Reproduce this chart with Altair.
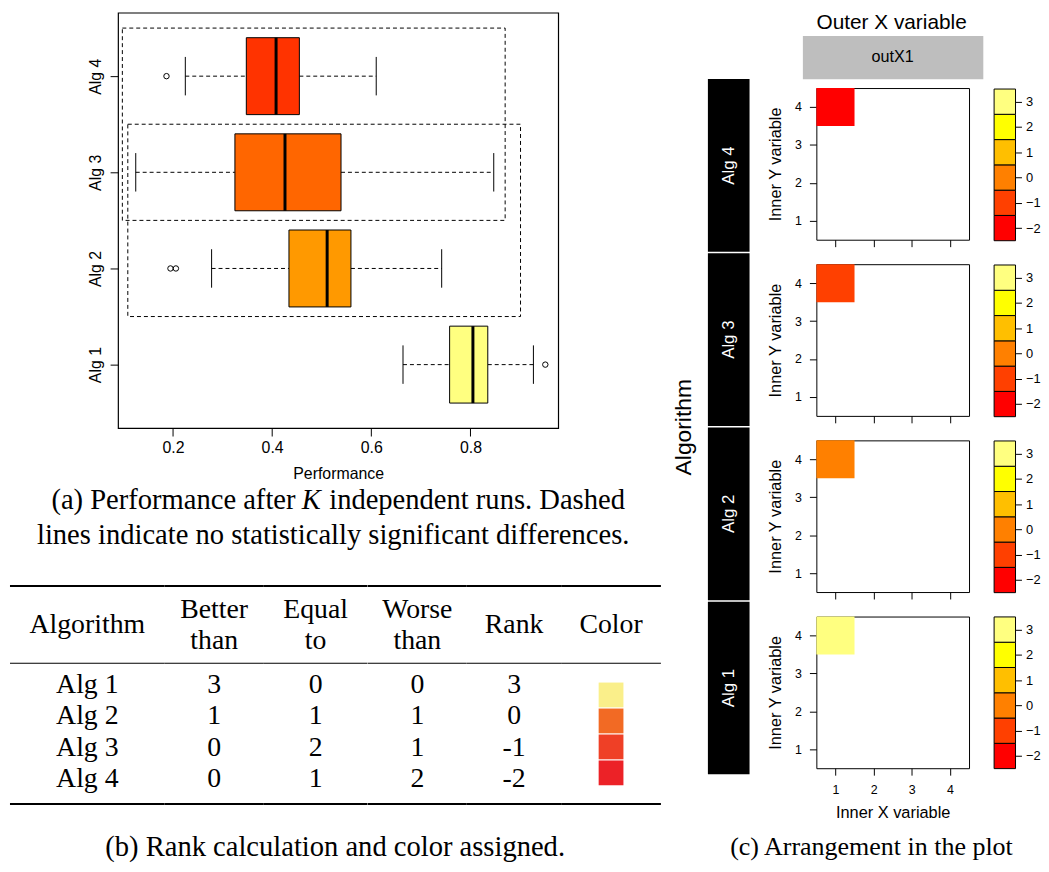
import altair as alt
import pandas as pd

# ---------------- data ----------------
algorithms = ["Alg 1", "Alg 2", "Alg 3", "Alg 4"]
alg_order = [1, 2, 3, 4]
whisker_low = [0.664, 0.278, 0.125, 0.225]
quart1 = [0.758, 0.434, 0.325, 0.348]
medians = [0.805, 0.511, 0.426, 0.408]
quart3 = [0.835, 0.559, 0.539, 0.455]
whisker_high = [0.927, 0.742, 0.847, 0.610]
box_fill = ["#FFFF80", "#FF9900", "#FF6600", "#FF3300"]

outlier_alg = ["Alg 1", "Alg 2", "Alg 2", "Alg 4"]
outlier_value = [0.951, 0.195, 0.206, 0.187]

tie_groups = [["Alg 3", "Alg 4"], ["Alg 2", "Alg 3"]]
tie_low = [0.098, 0.109]
tie_high = [0.870, 0.901]

table_headers = ["Algorithm", "Better\nthan", "Equal\nto", "Worse\nthan", "Rank", "Color"]
better_than = ["3", "1", "0", "0"]
equal_to = ["0", "1", "2", "1"]
worse_than = ["0", "1", "1", "2"]
ranks = [3, 0, -1, -2]
table_colors = ["#FAEF8A", "#F26A24", "#EF4026", "#EC2227"]

rank_levels = [-2, -1, 0, 1, 2, 3]
heat_colors = ["#FF0000", "#FF4000", "#FF8000", "#FFBF00", "#FFFF00", "#FFFF80"]
inner_x = [1, 1, 1, 1]
inner_y = [4, 4, 4, 4]
outer_x = ["outX1"]
outer_title = ["Outer X variable"]

caption_a = ["(a) Performance after", "K", "independent runs. Dashed",
             "lines indicate no statistically significant differences."]
caption_b = ["(b) Rank calculation and color assigned."]
caption_c = ["(c) Arrangement in the plot"]

SANS = "Liberation Sans"
SERIF = "Liberation Serif"


def spacer(w, h):
    # invisible, zero-stroke filler that never reaches outside its own view
    return alt.Chart(pd.DataFrame({"s": [0]})).mark_rect(opacity=0, strokeWidth=0).encode(
        x=alt.value(0), x2=alt.value(w), y=alt.value(0), y2=alt.value(h)
    ).properties(width=w, height=h)


# ---------------- (a) boxplot ----------------
pos_of = dict(zip(algorithms, alg_order))
box_df = pd.DataFrame({"alg": algorithms, "pos": alg_order, "lo": whisker_low, "q1": quart1,
                       "med": medians, "q3": quart3, "hi": whisker_high, "fill": box_fill})
out_df = pd.DataFrame({"alg": outlier_alg, "val": outlier_value})
out_df["pos"] = out_df["alg"].map(pos_of)
tie_df = pd.DataFrame({"lo": tie_low, "hi": tie_high,
                       "ymin": [min(pos_of[a] for a in g) - 0.5 for g in tie_groups],
                       "ymax": [max(pos_of[a] for a in g) + 0.5 for g in tie_groups]})

xsc = alt.Scale(domain=[0.0893, 0.977], nice=False, zero=False)
ysc = alt.Scale(domain=[0.34, 4.66], nice=False, zero=False)
xax = alt.Axis(values=[0.2, 0.4, 0.6, 0.8], format=".1f", grid=False, domain=False, tickSize=8,
               labelFontSize=16, labelPadding=4, title="Performance", titleFontSize=16,
               titlePadding=10)
yax = alt.Axis(values=[1, 2, 3, 4], labelExpr="'Alg ' + datum.value", labelAngle=270,
               labelAlign="center", labelBaseline="bottom", grid=False, domain=False,
               tickSize=8, labelFontSize=16, labelPadding=7, title=None)


def BX(f):
    return alt.X(f, type="quantitative", scale=xsc, axis=xax)


def BY(f):
    return alt.Y(f, type="quantitative", scale=ysc, axis=yax)


bbase = alt.Chart(box_df).transform_calculate(
    b0="datum.pos - 0.4", b1="datum.pos + 0.4", c0="datum.pos - 0.2", c1="datum.pos + 0.2")

ties = alt.Chart(tie_df).mark_rect(fill="white", fillOpacity=0, stroke="black", strokeWidth=1,
                                   strokeDash=[4, 3]).encode(
    x=BX("lo"), x2="hi", y=BY("ymin"), y2="ymax")
wl = bbase.mark_rule(color="black", strokeDash=[4, 3]).encode(x=BX("lo"), x2="q1", y=BY("pos"))
wh = bbase.mark_rule(color="black", strokeDash=[4, 3]).encode(x=BX("q3"), x2="hi", y=BY("pos"))
cl = bbase.mark_rule(color="black").encode(x=BX("lo"), y=BY("c0"), y2="c1")
ch = bbase.mark_rule(color="black").encode(x=BX("hi"), y=BY("c0"), y2="c1")
boxes = bbase.mark_rect(stroke="black", strokeWidth=1).encode(
    x=BX("q1"), x2="q3", y=BY("b0"), y2="b1", fill=alt.Fill("fill:N", scale=None))
meds = bbase.mark_rule(color="black", strokeWidth=3).encode(x=BX("med"), y=BY("b0"), y2="b1")
outs = alt.Chart(out_df).mark_point(shape="circle", filled=False, size=30, color="black",
                                    strokeWidth=1, opacity=1).encode(x=BX("val"), y=BY("pos"))

box = alt.layer(ties, wl, wh, cl, ch, boxes, meds, outs).properties(
    width=444, height=419, view=alt.ViewBackground(stroke="black", strokeWidth=1.2))

box_row = alt.hconcat(spacer(1, 1), box, spacing=75)


# caption helper
def ctext(txt, **kw):
    return alt.Chart(pd.DataFrame({"t": [txt]})).mark_text(
        font=SERIF, color="black", baseline="middle", **kw).encode(text="t:N")


capA = alt.layer(
    ctext(caption_a[0], fontSize=28.8, align="right", dx=-40, dy=-17.5),
    ctext(caption_a[1], fontSize=28.8, align="center", dx=-24, dy=-17.5, fontStyle="italic"),
    ctext(caption_a[2], fontSize=28.8, align="left", dx=-6, dy=-17.5),
    ctext(caption_a[3], fontSize=28.8, align="center", dx=-2, dy=17.5),
).properties(width=656, height=70)

# ---------------- (b) table ----------------
col_widths = [156, 100, 104.6, 99.8, 95, 100.6]
col_values = [algorithms, better_than, equal_to, worse_than, [str(r) for r in ranks], None]


def table_col(i):
    w = col_widths[i]
    one = pd.DataFrame({"r": [0]})
    nlines = table_headers[i].count("\n") + 1
    layers = [
        alt.Chart(one).mark_rule(color="black", strokeWidth=2).encode(y=alt.value(0)),
        alt.Chart(one).mark_rule(color="black", strokeWidth=1.2).encode(y=alt.value(78)),
        alt.Chart(one).mark_rule(color="black", strokeWidth=2).encode(y=alt.value(220)),
        alt.Chart(pd.DataFrame({"h": [table_headers[i]]})).mark_text(
            font=SERIF, fontSize=28, lineBreak="\n", lineHeight=31.7, baseline="middle",
            color="black").encode(text="h:N", y=alt.value(40 - 15.85 * (nlines - 1))),
    ]
    if col_values[i] is not None:
        df = pd.DataFrame({"alg": algorithms, "v": col_values[i]})
        layers.append(alt.Chart(df).mark_text(font=SERIF, fontSize=28, baseline="middle",
                                              color="black").encode(
            y=alt.Y("alg:N", sort=algorithms, axis=None,
                    scale=alt.Scale(domain=algorithms, type="point", padding=0,
                                    range=[100, 195])),
            text="v:N"))
    else:
        df = pd.DataFrame({"alg": algorithms, "c": table_colors})
        layers.append(alt.Chart(df).mark_square(size=625, opacity=1).encode(
            y=alt.Y("alg:N", sort=algorithms, axis=None,
                    scale=alt.Scale(domain=algorithms, type="point", padding=0,
                                    range=[110, 188.6])),
            color=alt.Color("c:N", scale=None)))
    return alt.layer(*layers).properties(width=w, height=220)


table = alt.hconcat(*[table_col(i) for i in range(6)], spacing=0, bounds="flush")

L = alt.vconcat(alt.vconcat(box_row, capA, spacing=0.5), table, spacing=31.2)

# ---------------- (c) arrangement ----------------
strip_df = pd.DataFrame({"alg": algorithms})
strip_y = alt.Y("alg:N", sort=list(reversed(algorithms)),
                scale=alt.Scale(paddingInner=0.0085, paddingOuter=0),
                axis=alt.Axis(title="Algorithm", labels=False, ticks=False, domain=False,
                              titleFontSize=23, titlePadding=13))
strips = alt.layer(
    alt.Chart(strip_df).mark_rect(color="black").encode(y=strip_y),
    alt.Chart(strip_df).mark_text(angle=270, color="white", fontSize=17, font=SANS).encode(
        y=strip_y, text="alg:N"),
).properties(width=42, height=701.3)
S = alt.vconcat(spacer(1, 1), strips, spacing=64)

title_chart = alt.Chart(pd.DataFrame({"o": outer_title})).mark_text(
    font=SANS, fontSize=21, color="black", baseline="middle").encode(text="o:N").properties(
    width=182, height=21)
header = alt.Chart(pd.DataFrame({"o": outer_x})).mark_text(
    font=SANS, fontSize=16.3, color="black", baseline="middle").encode(text="o:N").properties(
    width=182, height=43.7, view=alt.ViewBackground(fill="#BEBEBE", stroke="transparent"))
S1 = 47.3
title_row = alt.hconcat(spacer(1, 1), title_chart, spacing=S1)
header_row = alt.hconcat(spacer(1, 1), header, spacing=S1)
top_part = alt.vconcat(title_row, header_row, spacing=1)

hsc = alt.Scale(domain=[0.5, 4.5], nice=False, zero=False)


def heat(i, bottom):
    df = pd.DataFrame({"ix": [inner_x[i]], "iy": [inner_y[i]], "rank": [ranks[i]]})
    hx = alt.Axis(values=[1, 2, 3, 4], grid=False, domain=False, tickSize=7, labels=bottom,
                  labelFontSize=12.5, labelPadding=9, titleFontSize=16.5, titlePadding=8.5,
                  title="Inner X variable" if bottom else None)
    hy = alt.Axis(values=[1, 2, 3, 4], grid=False, domain=False, tickSize=7,
                  labelFontSize=12.5, labelPadding=8, titleFontSize=16.5, titlePadding=11.5,
                  title="Inner Y variable")
    return alt.Chart(df).transform_calculate(
        x0="datum.ix - 0.5", x1="datum.ix + 0.5", y0="datum.iy - 0.5", y1="datum.iy + 0.5"
    ).mark_rect().encode(
        x=alt.X("x0:Q", scale=hsc, axis=hx), x2="x1",
        y=alt.Y("y0:Q", scale=hsc, axis=hy), y2="y1",
        color=alt.Color("rank:O", scale=alt.Scale(domain=rank_levels, range=heat_colors),
                        legend=None),
    ).properties(width=154, height=153,
                 view=alt.ViewBackground(stroke="black", strokeWidth=1))


heat_stack = alt.vconcat(heat(3, False), heat(2, False), heat(1, False), heat(0, True),
                         spacing=15.7)
heat_col = alt.hconcat(spacer(1, 1), heat_stack, spacing=12.4)
M = alt.vconcat(top_part, heat_col, spacing=7)


def colorbar():
    df = pd.DataFrame({"lv": rank_levels, "col": heat_colors})
    return alt.Chart(df).transform_calculate(
        l0="datum.lv - 0.5", l1="datum.lv + 0.5"
    ).mark_rect(stroke="black", strokeWidth=1).encode(
        y=alt.Y("l0:Q", scale=alt.Scale(domain=[-2.5, 3.5], nice=False, zero=False),
                axis=alt.Axis(orient="right", values=rank_levels, format="d", tickSize=6,
                              labelPadding=4, grid=False, domain=False, title=None,
                              labelFontSize=13)),
        y2="l1", fill=alt.Fill("col:N", scale=None),
    ).properties(width=21.6, height=153)


cb_stack = alt.vconcat(*[colorbar() for _ in range(4)], spacing=22.5)
C = alt.vconcat(spacer(1, 1), cb_stack, spacing=74)

Y = alt.hconcat(M, C, spacing=9.7)
X = alt.hconcat(S, Y, spacing=1)
row1 = alt.hconcat(L, X, spacing=8)

capB = ctext(caption_b[0], fontSize=28.8, align="center").properties(width=656, height=30)
capC = ctext(caption_c[0], fontSize=26.2, align="center").properties(width=300, height=30)
row2 = alt.hconcat(capB, capC, spacing=63)

chart = alt.vconcat(row1, row2, spacing=10).properties(padding=0).configure_view(
    stroke="transparent").configure_axis(
    labelFont=SANS, titleFont=SANS, labelColor="black", titleColor="black",
    tickColor="black", titleFontWeight="normal")

chart.save("out.html", embed_options={"renderer": "svg", "actions": False})
